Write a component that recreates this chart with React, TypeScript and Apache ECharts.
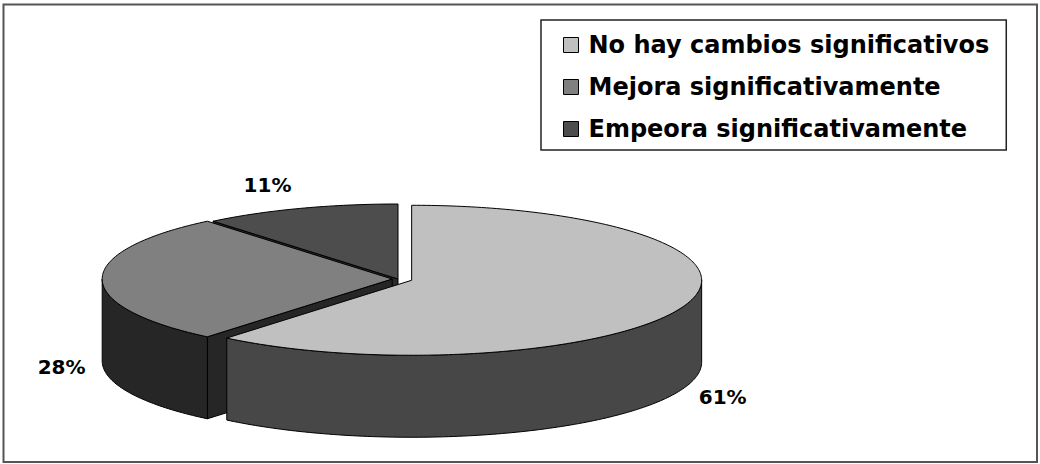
import React, { useEffect, useRef } from 'react';
import * as echarts from 'echarts';

// ---- data ----
const categories = [
  'No hay cambios significativos',
  'Mejora significativamente',
  'Empeora significativamente',
];
const values = [61, 28, 11];

// ---- style ----
const topColors = ['#c0c0c0', '#808080', '#4d4d4d'];
const wallColors = ['#474747', '#262626', '#2b2b2b'];
const explode = [0.05, 0.02, 0];
const CX = 398;
const CY = 279;
const RX = 290;
const RY = 75;
const DEPTH = 82;

const rad = (d: number) => (d * Math.PI) / 180;

function sliceGeom(i: number) {
  const total = values.reduce((a, b) => a + b, 0);
  let start = 0;
  for (let j = 0; j < i; j++) start += (values[j] / total) * 360;
  const end = start + (values[i] / total) * 360;
  const mid = (start + end) / 2;
  const cx = CX + Math.sin(rad(mid)) * RX * explode[i];
  const cy = CY - Math.cos(rad(mid)) * RY * explode[i];
  return { start, end, mid, cx, cy };
}

function pt(cx: number, cy: number, deg: number, dz = 0): number[] {
  const r = rad(deg);
  return [cx + RX * Math.sin(r), cy - RY * Math.cos(r) + dz];
}

function arc(cx: number, cy: number, a0: number, a1: number, dz: number) {
  const pts: number[][] = [];
  const n = Math.max(2, Math.ceil(Math.abs(a1 - a0)));
  for (let k = 0; k <= n; k++) pts.push(pt(cx, cy, a0 + ((a1 - a0) * k) / n, dz));
  return pts;
}

function renderSlice(i: number) {
  const { start, end, mid, cx, cy } = sliceGeom(i);
  const stroke = { stroke: '#000', lineWidth: 1, lineJoin: 'round' };
  const children: any[] = [];
  if (Math.sin(rad(start)) < -1e-6) {
    const o = pt(cx, cy, start);
    children.push({
      type: 'polygon',
      shape: { points: [[cx, cy], o, [o[0], o[1] + DEPTH], [cx, cy + DEPTH]] },
      style: { fill: wallColors[i], ...stroke },
    });
  }
  if (Math.sin(rad(end)) > 1e-6) {
    const o = pt(cx, cy, end);
    children.push({
      type: 'polygon',
      shape: { points: [[cx, cy], o, [o[0], o[1] + DEPTH], [cx, cy + DEPTH]] },
      style: { fill: wallColors[i], ...stroke },
    });
  }
  const w0 = Math.max(start, 90);
  const w1 = Math.min(end, 270);
  if (w1 > w0) {
    const pts = arc(cx, cy, w0, w1, 0).concat(arc(cx, cy, w1, w0, DEPTH));
    children.push({
      type: 'polygon',
      shape: { points: pts },
      style: { fill: wallColors[i], ...stroke },
    });
  }
  children.push({
    type: 'polygon',
    shape: { points: [[cx, cy], ...arc(cx, cy, start, end, 0)] },
    style: { fill: topColors[i], ...stroke },
  });
  const c = Math.cos(rad(mid));
  const s = Math.sin(rad(mid));
  const k = 1.14 + 0.2 * Math.max(0, c);
  const lx = cx + s * RX * k;
  const ly = c > 0 ? cy - c * RY * k : cy - c * RY * k + DEPTH + 6;
  children.push({
    type: 'text',
    style: {
      text: values[i] + '%',
      x: lx,
      y: ly,
      fill: '#000',
      font: 'bold 20px "DejaVu Sans"',
      align: 'center',
      verticalAlign: 'middle',
    },
  });
  return { type: 'group', children };
}

export default function App() {
  const ref = useRef<HTMLDivElement>(null);
  useEffect(() => {
    if (!ref.current) return;
    const chart = echarts.init(ref.current, undefined, { renderer: 'svg' });
    const depthOrder = categories
      .map((_, i) => ({ i, d: -Math.cos(rad(sliceGeom(i).mid)) }))
      .sort((a, b) => a.d - b.d)
      .map((o) => o.i);
    chart.setOption({
      animation: false,
      backgroundColor: '#fff',
      legend: {
        orient: 'vertical',
        left: 541,
        top: 20,
        padding: [11, 17, 7, 22],
        itemWidth: 15,
        itemHeight: 15,
        itemGap: 14,
        icon: 'rect',
        selectedMode: false,
        borderColor: '#222',
        borderWidth: 1.5,
        itemStyle: { borderColor: '#000', borderWidth: 1 },
        textStyle: {
          fontFamily: 'DejaVu Sans',
          fontWeight: 'bold',
          fontSize: 24,
          lineHeight: 28,
          color: '#000',
          padding: [0, 0, 0, 5],
        },
        data: categories,
      },
      graphic: [
        {
          type: 'rect',
          silent: true,
          shape: { x: 3.5, y: 4.5, width: 1033.5, height: 457.5 },
          style: { fill: 'none', stroke: '#555', lineWidth: 2 },
        },
      ],
      series: categories.map((name, i) => ({
        type: 'custom',
        name,
        coordinateSystem: 'none',
        silent: true,
        z: 2 + depthOrder.indexOf(i),
        itemStyle: { color: topColors[i], borderColor: '#000', borderWidth: 1 },
        data: [values[i]],
        renderItem: () => renderSlice(i),
      })),
    });
    return () => chart.dispose();
  }, []);
  return (
    <div
      ref={ref}
      style={{ position: 'fixed', left: 0, top: 0, width: 1040, height: 464 }}
    />
  );
}
